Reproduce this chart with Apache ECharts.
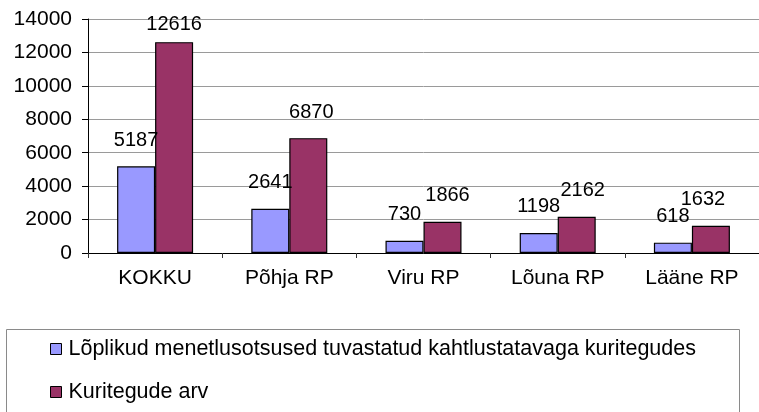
<!DOCTYPE html>
<html>
<head>
<meta charset="utf-8">
<script src="https://cdn.jsdelivr.net/npm/echarts@6/dist/echarts.min.js"></script>
<style>
html,body{margin:0;padding:0;background:#fff;}
#chart{width:759px;height:412px;}
</style>
</head>
<body>
<div id="chart"></div>
<script>
const categories = ['KOKKU', 'Põhja RP', 'Viru RP', 'Lõuna RP', 'Lääne RP'];
const seriesNames = ['Lõplikud menetlusotsused tuvastatud kahtlustatavaga kuritegudes', 'Kuritegude arv'];
const finalDecisions = [5187, 2641, 730, 1198, 618];
const crimeCount = [12616, 6870, 1866, 2162, 1632];
const yTicks = { min: 0, max: 14000, interval: 2000 };

// label placement tweaks (style only, mimics the original's label nudges)
const redLabelOffsets = [[0, 8], [3, 0], [5, 0], [6, 0], [-8, 0]];

const FONT = 'Liberation Sans, Arial, sans-serif';
const chart = echarts.init(document.getElementById('chart'), null, {renderer: 'canvas'});

function mkData(vals, offsets) {
  return vals.map((v, i) => {
    const o = offsets ? offsets[i] : [0, 0];
    return { value: v, label: { offset: [o[0], o[1]] } };
  });
}

const labelStyle = {
  show: true, position: 'top', distance: 16,
  fontFamily: FONT, fontSize: 20, color: '#000'
};

chart.setOption({
  animation: false,
  backgroundColor: '#fff',
  textStyle: { fontFamily: FONT },
  grid: { left: 88, right: -9, top: 19, bottom: 159, containLabel: false },
  graphic: [{
    type: 'rect', silent: true,
    shape: { x: 6.5, y: 329.5, width: 733, height: 100 },
    style: { fill: 'none', stroke: '#8a8a8a', lineWidth: 1 }
  }],
  xAxis: {
    type: 'category',
    data: categories,
    axisLine: { lineStyle: { color: '#000', width: 1 } },
    axisTick: { show: true, length: 5, lineStyle: { color: '#333' } },
    axisLabel: { fontFamily: FONT, fontSize: 21, color: '#000', margin: 15 }
  },
  yAxis: {
    type: 'value',
    min: yTicks.min, max: yTicks.max, interval: yTicks.interval,
    axisLine: { show: true, lineStyle: { color: '#000', width: 1 } },
    axisTick: { show: true, length: 6, lineStyle: { color: '#000' } },
    axisLabel: { fontFamily: FONT, fontSize: 21, color: '#000', margin: 16, formatter: v => String(v) },
    splitLine: { show: true, lineStyle: { color: '#9a9a9a', width: 1 } }
  },
  legend: {
    orient: 'vertical',
    left: 50, top: 338, height: 200,
    padding: 0,
    itemGap: 21,
    itemWidth: 11, itemHeight: 11,
    icon: 'rect',
    textStyle: { fontFamily: FONT, fontSize: 21.5, color: '#000', padding: [0, 0, 0, 2] },
    itemStyle: { borderColor: '#000', borderWidth: 1 },
    data: seriesNames
  },
  series: [
    {
      name: seriesNames[0], type: 'bar',
      barWidth: 38, barGap: '0%',
      itemStyle: { color: '#9999FF', borderColor: '#000', borderWidth: 1.2 },
      label: labelStyle,
      data: mkData(finalDecisions, null)
    },
    {
      name: seriesNames[1], type: 'bar',
      barWidth: 38, barGap: '0%',
      itemStyle: { color: '#993366', borderColor: '#000', borderWidth: 1.2 },
      label: labelStyle,
      data: mkData(crimeCount, redLabelOffsets)
    }
  ]
});
</script>
</body>
</html>
